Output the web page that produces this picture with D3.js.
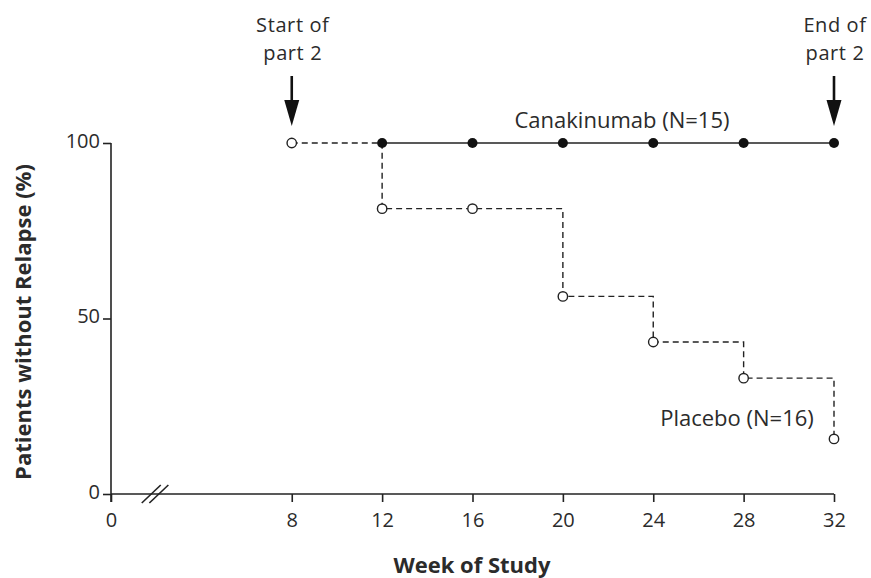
<!DOCTYPE html>
<html>
<head>
<meta charset="utf-8">
<script src="https://cdn.jsdelivr.net/npm/d3@7"></script>
<style>
  html, body { margin: 0; padding: 0; background: #fff; }
  svg text { font-family: "Open Sans", "Noto Sans", sans-serif; fill: #2b2b2b; }
</style>
</head>
<body>
<svg id="chart" width="871" height="578"></svg>
<script>
// Weeks of the study and percentage of patients without relapse
const xTicks = [0, 8, 12, 16, 20, 24, 28, 32];
const yTicks = [0, 50, 100];
const canakinumabWeeks = [12, 16, 20, 24, 28, 32];
const canakinumabValues = [100, 100, 100, 100, 100, 100];
const placeboWeeks = [8, 12, 16, 20, 24, 28, 32];
const placeboValues = [100, 81.3, 81.3, 56.3, 43.3, 33.0, 15.7];
const annotations = [
  { week: 8, lines: ["Start of", "part 2"] },
  { week: 32, lines: ["End of", "part 2"] }
];

const svg = d3.select("#chart");
const x = d3.scaleLinear().domain([0, 32]).range([111, 834]);
const y = d3.scaleLinear().domain([0, 100]).range([494, 143]);
const ink = "#222";

// Axes
const xAxis = svg.append("g").attr("transform", `translate(0,${y(0)})`)
  .call(d3.axisBottom(x).tickValues(xTicks).tickSize(8).tickPadding(11).tickFormat(d3.format("d")));
const yAxis = svg.append("g").attr("transform", `translate(${x(0)},0)`)
  .call(d3.axisLeft(y).tickValues(yTicks).tickSize(8).tickPadding(3));
[xAxis, yAxis].forEach(g => {
  g.select(".domain").remove();
  g.selectAll("line").attr("stroke", ink).attr("stroke-width", 1.6);
  g.selectAll("text").attr("font-size", 20).attr("fill", "#2b2b2b");
});
yAxis.selectAll("text").attr("dy", "0.22em");
svg.append("line").attr("x1", x(0)).attr("x2", x(32)).attr("y1", y(0)).attr("y2", y(0))
  .attr("stroke", ink).attr("stroke-width", 1.6);
svg.append("line").attr("x1", x(0)).attr("x2", x(0)).attr("y1", y(100)).attr("y2", y(0) + 8)
  .attr("stroke", ink).attr("stroke-width", 1.6);

// Axis break marks
const bx = x(1.95), by = y(0);
[-3.8, 3.8].forEach(o => {
  svg.append("line").attr("x1", bx + o - 9.5).attr("y1", by + 9).attr("x2", bx + o + 9.5).attr("y2", by - 9)
    .attr("stroke", ink).attr("stroke-width", 1.6);
});

// Axis titles
svg.append("text").attr("x", 472).attr("y", 573).attr("text-anchor", "middle")
  .attr("font-size", 22).attr("font-weight", "bold").text("Week of Study");
svg.append("text").attr("transform", `translate(31,322) rotate(-90)`)
  .attr("text-anchor", "middle").attr("font-size", 22).attr("font-weight", "bold")
  .text("Patients without Relapse (%)");

// Placebo step curve (dashed)
const placebo = placeboWeeks.map((w, i) => [w, placeboValues[i]]);
const stepLine = d3.line().x(d => x(d[0])).y(d => y(d[1])).curve(d3.curveStepAfter);
svg.append("path").datum(placebo).attr("d", stepLine)
  .attr("fill", "none").attr("stroke", ink).attr("stroke-width", 1.4).attr("stroke-dasharray", "6,4");

// Canakinumab curve (solid)
const cana = canakinumabWeeks.map((w, i) => [w, canakinumabValues[i]]);
svg.append("path").datum(cana).attr("d", d3.line().x(d => x(d[0])).y(d => y(d[1])))
  .attr("fill", "none").attr("stroke", ink).attr("stroke-width", 1.6);

svg.selectAll(".pl").data(placebo).join("circle")
  .attr("cx", d => x(d[0])).attr("cy", d => y(d[1])).attr("r", 4.7)
  .attr("fill", "#fff").attr("stroke", ink).attr("stroke-width", 1.4);
svg.selectAll(".ca").data(cana).join("circle")
  .attr("cx", d => x(d[0])).attr("cy", d => y(d[1])).attr("r", 5)
  .attr("fill", "#111");

// Series labels
svg.append("text").attr("x", 622).attr("y", 128).attr("text-anchor", "middle")
  .attr("font-size", 22).text("Canakinumab (N=15)");
svg.append("text").attr("x", 737).attr("y", 426).attr("text-anchor", "middle")
  .attr("font-size", 22).text("Placebo (N=16)");

// Start / end annotations with arrows
annotations.forEach(a => {
  const ax = x(a.week);
  a.lines.forEach((t, i) => {
    svg.append("text").attr("x", ax + 1).attr("y", 32 + i * 28).attr("text-anchor", "middle")
      .attr("font-size", 20).attr("letter-spacing", 0.6).text(t);
  });
  svg.append("line").attr("x1", ax).attr("x2", ax).attr("y1", 76).attr("y2", 104)
    .attr("stroke", "#111").attr("stroke-width", 2.6);
  svg.append("path").attr("d", `M${ax - 7.5},100 L${ax + 7.5},100 L${ax},126 Z`).attr("fill", "#111");
});
</script>
</body>
</html>
